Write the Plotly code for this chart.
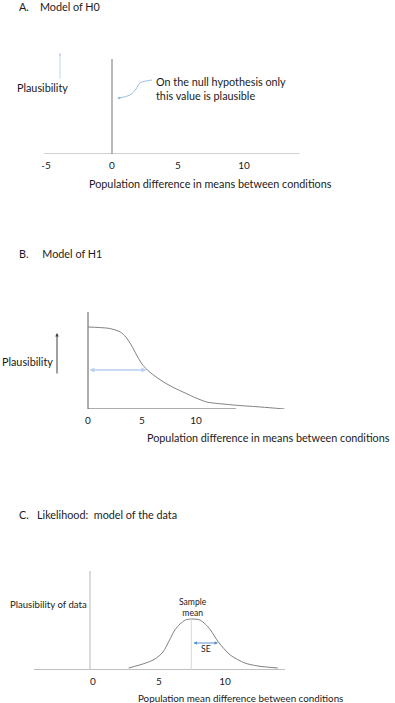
import plotly.graph_objects as go

W, H = 395, 703
FONT = "Lato"
TXT = "#1a1a1a"
BLUE = "#8fb4e3"

# ---------------- data ----------------
# Panel A: model of H0 (only 0 is plausible)
a_ticks = [-5, 0, 5, 10]
a_axis_x = [-5.15, 14.2]
a_spike_x = [0, 0]
a_spike_y = [0, 95]
a_curve_x = [3.03, 2.58, 2.12, 1.82, 1.36, 0.55]
a_curve_y = [74, 73, 71, 65, 59, 56]

# Panel B: model of H1 (half-normal-ish)
b_ticks = [0, 5, 10]
b_x = [0, 1, 2, 3, 3.5, 4, 4.5, 5, 5.5, 6, 7, 8, 9, 10, 11, 12, 13, 14, 16, 18.2]
b_y = [82, 81.5, 80.5, 77, 72, 64, 54, 45, 39, 34.5, 27, 21, 16, 11, 7, 5.5, 4.5, 3.5, 2, 0]
b_axis_x = [0, 13.7]
b_axis_top = 97
b_sd_x = [0, 5.4]
b_sd_y = 39

# Panel C: likelihood
c_ticks = [0, 5, 10]
c_x = [2.7, 4.0, 4.7, 5.3, 5.8, 6.2, 6.6, 7.0, 7.5, 8.1, 8.5, 8.9, 9.5, 10.4, 11.5, 12.5, 14.0]
c_y = [2, 7, 11, 18, 30, 40, 46, 50, 51, 50, 46, 40, 28, 15, 7, 4, 2]
c_axis_x = [-4.47, 14.55]
c_vaxis_x = -0.23
c_vaxis_top = 99
c_mean = 7.45
c_se_x = [7.5, 9.47]
c_se_y = 27


def px_dom_x(p0, p1):
    return [p0 / W, p1 / W]


def px_dom_y(p_bottom, p_top):
    return [1 - p_bottom / H, 1 - p_top / H]


fig = go.Figure()

# ---- Panel A (x, y) ----
A_o, A_s = 112, 13.2
fig.add_trace(go.Scatter(x=a_axis_x, y=[0, 0], mode="lines",
                         line=dict(color="#a6a6a6", width=1.2), xaxis="x", yaxis="y"))
fig.add_trace(go.Scatter(x=a_spike_x, y=a_spike_y, mode="lines",
                         line=dict(color="#808080", width=1.1), xaxis="x", yaxis="y"))
fig.add_trace(go.Scatter(x=a_curve_x, y=a_curve_y, mode="lines",
                         line=dict(color=BLUE, width=0.9, shape="spline"), xaxis="x", yaxis="y"))

# ---- Panel B (x2, y2) ----
B_o, B_s = 88, 10.8
fig.add_trace(go.Scatter(x=b_axis_x, y=[0, 0], mode="lines",
                         line=dict(color="#595959", width=1), xaxis="x2", yaxis="y2"))
fig.add_trace(go.Scatter(x=[0, 0], y=[0, b_axis_top], mode="lines",
                         line=dict(color="#595959", width=1), xaxis="x2", yaxis="y2"))
fig.add_trace(go.Scatter(x=b_x, y=b_y, mode="lines",
                         line=dict(color="#808080", width=1, shape="spline", smoothing=0.8),
                         xaxis="x2", yaxis="y2"))

# ---- Panel C (x3, y3) ----
C_o, C_s = 93, 13.2
fig.add_trace(go.Scatter(x=c_axis_x, y=[0, 0], mode="lines",
                         line=dict(color="#808080", width=1.2), xaxis="x3", yaxis="y3"))
fig.add_trace(go.Scatter(x=[c_vaxis_x, c_vaxis_x], y=[0, c_vaxis_top], mode="lines",
                         line=dict(color="#c8c8c8", width=1.3), xaxis="x3", yaxis="y3"))
fig.add_trace(go.Scatter(x=c_x, y=c_y, mode="lines",
                         line=dict(color="#808080", width=1, shape="spline", smoothing=0.8),
                         xaxis="x3", yaxis="y3"))
fig.add_trace(go.Scatter(x=[c_mean, c_mean], y=[0, max(c_y)], mode="lines",
                         line=dict(color="#c9dcf0", width=1), xaxis="x3", yaxis="y3"))

ax_common = dict(showgrid=False, zeroline=False, showline=False, ticks="",
                 ticklabelstandoff=4,
                 tickfont=dict(family=FONT, size=10, color=TXT), fixedrange=True)
ay_common = dict(showgrid=False, zeroline=False, showline=False, showticklabels=False,
                 ticks="", fixedrange=True)

fig.update_layout(
    width=W, height=H,
    margin=dict(l=0, r=0, t=0, b=0),
    paper_bgcolor="white", plot_bgcolor="white",
    showlegend=False,
    xaxis=dict(domain=px_dom_x(20, 320), range=[(20 - A_o) / A_s, (320 - A_o) / A_s],
               tickvals=a_ticks, ticktext=[str(v) for v in a_ticks], anchor="y", **ax_common),
    yaxis=dict(domain=px_dom_y(154, 44), range=[0, 110], anchor="x", **ay_common),
    xaxis2=dict(domain=px_dom_x(30, 310), range=[(30 - B_o) / B_s, (310 - B_o) / B_s],
                tickvals=b_ticks, ticktext=[str(v) for v in b_ticks], anchor="y2", **ax_common),
    yaxis2=dict(domain=px_dom_y(409, 300), range=[0, 109], anchor="x2", **ay_common),
    xaxis3=dict(domain=px_dom_x(20, 300), range=[(20 - C_o) / C_s, (300 - C_o) / C_s],
                tickvals=c_ticks, ticktext=[str(v) for v in c_ticks], anchor="y3", **ax_common),
    yaxis3=dict(domain=px_dom_y(670, 560), range=[0, 110], anchor="x3", **ay_common),
)

def txt(s, x, y, xref="paper", yref="paper", xanchor="left", yanchor="middle",
        size=10.8, align="left", color=TXT):
    fig.add_annotation(text=s, x=x, y=y, xref=xref, yref=yref, xanchor=xanchor,
                       yanchor=yanchor, showarrow=False, align=align,
                       font=dict(family=FONT, size=size, color=color))

NB = "\u00a0"
# titles
txt("A." + NB * 4 + "Model of H0", 17 / W, 1 - 6 / H)
txt("B." + NB * 5 + "Model of H1", 17 / W, 1 - 253 / H)
txt("C." + NB * 3 + "Likelihood:" + NB * 2 + "model of the data", 17 / W, 1 - 514 / H)

# x-axis titles
txt("Population difference in means between conditions", 211 / W, 1 - 184 / H, xanchor="center")
txt("Population difference in means between conditions", 392 / W, 1 - 437 / H, xanchor="right")
txt("Population mean difference between conditions", 240 / W, 1 - 698 / H, xanchor="center", size=9.8)

# y labels
txt("Plausibility", 15 / W, 1 - 88 / H)
txt("Plausibility", 0, 1 - 361 / H)
txt("Plausibility of data", 8 / W, 1 - 604 / H, size=9.6)

# Panel A annotation
txt("On the null hypothesis only<br>this value is plausible", 3.2, 66, xref="x", yref="y")
fig.add_annotation(x=0.4, y=55.5, ax=0.75, ay=56.5, xref="x", yref="y", axref="x", ayref="y",
                   showarrow=True, arrowhead=2, arrowsize=0.6, arrowwidth=0.9,
                   arrowcolor=BLUE, text="")
# Panel A plausibility arrow
fig.add_annotation(x=-3.94, y=101, ax=-3.94, ay=74, xref="x", yref="y", axref="x", ayref="y",
                   showarrow=True, arrowhead=2, arrowsize=0.6, arrowwidth=0.8,
                   arrowcolor="#b4c9e6", text="")

# Panel B plausibility arrow
fig.add_annotation(x=-2.87, y=76, ax=-2.87, ay=34, xref="x2", yref="y2", axref="x2", ayref="y2",
                   showarrow=True, arrowhead=2, arrowsize=0.7, arrowwidth=1,
                   arrowcolor="#404040", text="")
# Panel B double arrow
fig.add_annotation(x=b_sd_x[1], y=b_sd_y, ax=b_sd_x[0], ay=b_sd_y, xref="x2", yref="y2",
                   axref="x2", ayref="y2", showarrow=True, arrowhead=2, startarrowhead=2,
                   arrowside="end+start", arrowsize=0.7, arrowwidth=1.4,
                   arrowcolor="#b8d0ee", text="")

# Panel C
txt("Sample<br>mean", 7.6, 62.5, xref="x3", yref="y3", xanchor="center", size=8.6, align="center")
txt("SE", 8.56, 21, xref="x3", yref="y3", xanchor="center", size=8.6)
fig.add_annotation(x=c_se_x[1], y=c_se_y, ax=c_se_x[0], ay=c_se_y, xref="x3", yref="y3",
                   axref="x3", ayref="y3", showarrow=True, arrowhead=2, startarrowhead=2,
                   arrowside="end+start", arrowsize=0.7, arrowwidth=1,
                   arrowcolor="#5b8fd0", text="")

fig.write_html("out.html")
